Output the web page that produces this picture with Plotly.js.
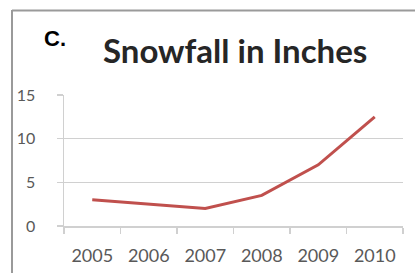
<!DOCTYPE html>
<html><head><meta charset="utf-8">
<script src="https://cdn.plot.ly/plotly-3.0.1.min.js"></script>
<style>html,body{margin:0;padding:0;background:#fff;}#c{width:415px;height:273px;}</style>
</head><body><div id="c"></div>
<script>
const years = ['2005','2006','2007','2008','2009','2010'];
const snowfall = [3.0, 2.5, 2.0, 3.5, 7.0, 12.5];
const yTicks = [0, 5, 10, 15];

const L = 64, R = 12, T = 95, B = 47, W = 415, H = 273;
const pw = W - L - R, ph = H - T - B;
const px = x => (x - L) / pw;
const py = y => (H - B - y) / ph;

Plotly.newPlot('c', [{
  x: years, y: snowfall, type: 'scatter', mode: 'lines',
  line: {color: '#c0504d', width: 3},
  hoverinfo: 'skip'
}], {
  width: W, height: H,
  margin: {l: L, r: R, t: T, b: B, pad: 0},
  paper_bgcolor: '#fff', plot_bgcolor: '#fff',
  showlegend: false,
  xaxis: {
    type: 'category', range: [-0.5, 5.5],
    showgrid: false, showline: true, linecolor: '#d0d0d0', linewidth: 1.5,
    ticks: 'outside', tickson: 'boundaries', ticklen: 6, tickcolor: '#d0d0d0', tickwidth: 1.5,
    ticklabelstandoff: 13,
    tickfont: {family: 'Lato', size: 18, color: '#595959'},
    zeroline: false, fixedrange: true
  },
  yaxis: {
    range: [0, 15], tickvals: yTicks,
    showgrid: true, gridcolor: '#d0d0d0', gridwidth: 1.5,
    showline: true, linecolor: '#d0d0d0', linewidth: 1.5,
    ticks: 'outside', ticklen: 6, tickcolor: '#d0d0d0', tickwidth: 1.5,
    ticklabelstandoff: 18,
    tickfont: {family: 'Lato', size: 16, color: '#595959'},
    zeroline: false, fixedrange: true
  },
  shapes: [
    {type: 'line', xref: 'paper', yref: 'paper', x0: px(12), x1: px(420), y0: py(10.5), y1: py(10.5), line: {color: '#9a9a9a', width: 2}},
    {type: 'line', xref: 'paper', yref: 'paper', x0: px(12), x1: px(12), y0: py(10), y1: py(280), line: {color: '#9a9a9a', width: 2}}
  ],
  annotations: [
    {text: 'Snowfall in Inches', xref: 'paper', yref: 'paper', x: px(235), y: py(50), xanchor: 'center', yanchor: 'middle', showarrow: false,
     font: {family: 'Lato', size: 33, weight: 'bold', color: '#262626'}},
    {text: 'C.', xref: 'paper', yref: 'paper', x: px(42), y: py(39), xanchor: 'left', yanchor: 'middle', showarrow: false,
     font: {family: 'Liberation Sans', size: 22, weight: 'bold', color: '#000'}}
  ]
}, {staticPlot: true});
</script></body></html>
